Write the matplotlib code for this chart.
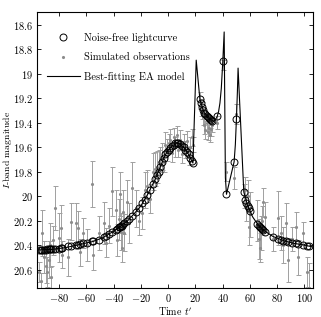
import matplotlib
matplotlib.use("Agg")
import matplotlib.pyplot as plt
from matplotlib.ticker import FuncFormatter, FixedLocator
from matplotlib.lines import Line2D

plt.rcParams['font.family'] = 'serif'
plt.rcParams['font.serif'] = ['cmr10', 'DejaVu Serif']
plt.rcParams['mathtext.fontset'] = 'cm'
plt.rcParams['axes.unicode_minus'] = True

# ---- data ----
obs_t = [-94.7, -93.6, -92.2, -90.8, -89.8, -88.6, -87.6, -86.6, -85.6, -84.8,
         -82.7, -80.2, -78.6, -77.5, -73.3, -71.5, -67.8, -66.2, -64.5, -62.2,
         -59.3, -55.8, -55.2, -50.7, -47.2, -45.9, -43.4, -41.2, -38.2, -37.3,
         -36.2, -35.5, -34.8, -34.0, -33.0, -32.0, -30.0, -28.8, -26.3, -23.9,
         -21.4, -19.0, -17.3, -15.5, -13.1, -11.2, -9.5, -8.2, -7.0, -5.7,
         -4.5, -3.3, -2.1, -0.8, 0.5, 1.5, 2.8, 4.0, 5.2, 6.4,
         7.6, 8.9, 10.1, 11.3, 12.6, 13.8, 15.0, 16.2, 17.3, 18.2,
         23.3, 24.0, 24.8, 25.7, 26.5, 27.3, 28.2, 29.0, 29.8, 30.6,
         31.5, 32.3, 36.0, 40.1, 42.8, 48.4, 50.1, 55.5,
         56.5, 57.3, 58.4, 59.4, 60.4, 65.4, 66.3, 67.2, 68.0, 68.9,
         69.8, 71.1, 77.2, 80.9, 82.5, 84.5, 86.5, 88.2, 90.7, 94.0,
         95.5, 99.2, 101.7, 103.4]

noise_free_mag = [20.44, 20.44, 20.44, 20.44, 20.44, 20.435, 20.435, 20.435, 20.435, 20.43,
                  20.43, 20.43, 20.425, 20.425, 20.41, 20.405, 20.40, 20.395, 20.39, 20.385,
                  20.38, 20.37, 20.37, 20.36, 20.335, 20.325, 20.31, 20.295, 20.28, 20.27,
                  20.255, 20.25, 20.245, 20.24, 20.23, 20.22, 20.205, 20.19, 20.16, 20.13,
                  20.10, 20.06, 20.03, 19.99, 19.95, 19.90, 19.86, 19.83, 19.80, 19.76,
                  19.72, 19.69, 19.66, 19.64, 19.62, 19.605, 19.59, 19.58, 19.57, 19.565,
                  19.57, 19.575, 19.59, 19.60, 19.62, 19.64, 19.66, 19.685, 19.71, 19.73,
                  19.21, 19.24, 19.27, 19.30, 19.32, 19.33, 19.345, 19.355, 19.365, 19.37,
                  19.38, 19.385, 19.35, 18.90, 19.985, 19.72, 19.37, 19.966,
                  20.03, 20.055, 20.08, 20.10, 20.12, 20.225, 20.24, 20.25, 20.26, 20.27,
                  20.28, 20.29, 20.33, 20.35, 20.355, 20.365, 20.37, 20.378, 20.38, 20.385,
                  20.39, 20.40, 20.405, 20.41]

obs_mag = [20.62, 20.69, 20.30, 20.50, 20.57, 20.62, 20.52, 20.40, 20.66, 20.36,
           20.10, 20.34, 20.26, 20.48, 20.50, 20.21, 20.22, 20.26, 20.46, 20.30,
           20.40, 19.90, 20.48, 20.30, 20.22, 20.38, 20.24, 19.96, 20.11, 20.36,
           20.19, 19.98, 20.29, 20.42, 20.13, 20.30, 20.05, 20.22, 19.93, 20.10,
           20.20, 20.14, 19.95, 19.92, 20.02, 19.80, 19.78, 19.76, 19.72, 19.70,
           19.68, 19.72, 19.58, 19.62, 19.57, 19.54, 19.65, 19.52, 19.60, 19.50,
           19.62, 19.54, 19.66, 19.56, 19.62, 19.55, 19.68, 19.60, 19.52, 19.58,
           19.22, 19.28, 19.30, 19.35, 19.42, 19.46, 19.40, 19.48, 19.44, 19.50,
           19.45, 19.42, 19.40, 18.93, 19.80, 19.85, 19.33, 20.00,
           19.95, 20.10, 20.00, 20.25, 20.15, 20.20, 20.35, 20.42, 20.30, 20.20,
           20.05, 20.17, 20.35, 20.18, 20.30, 20.40, 20.22, 20.52, 20.35, 20.25,
           20.50, 20.30, 20.62, 20.75]

obs_err = [0.08, 0.06, 0.19, 0.13, 0.14, 0.12, 0.15, 0.18, 0.09, 0.12,
           0.18, 0.20, 0.19, 0.11, 0.15, 0.15, 0.16, 0.14, 0.11, 0.12,
           0.13, 0.19, 0.12, 0.14, 0.17, 0.12, 0.14, 0.20, 0.16, 0.13,
           0.17, 0.18, 0.15, 0.12, 0.18, 0.15, 0.18, 0.16, 0.21, 0.15,
           0.12, 0.13, 0.15, 0.13, 0.12, 0.15, 0.14, 0.13, 0.10, 0.10,
           0.11, 0.08, 0.10, 0.09, 0.08, 0.09, 0.07, 0.08, 0.08, 0.07,
           0.06, 0.08, 0.07, 0.07, 0.07, 0.08, 0.07, 0.08, 0.07, 0.06,
           0.07, 0.07, 0.07, 0.07, 0.07, 0.07, 0.07, 0.06, 0.07, 0.06,
           0.06, 0.06, 0.05, 0.04, 0.08, 0.09, 0.08, 0.10,
           0.11, 0.10, 0.13, 0.15, 0.18, 0.17, 0.16, 0.12, 0.14, 0.12,
           0.12, 0.12, 0.10, 0.22, 0.14, 0.15, 0.16, 0.18, 0.10, 0.12,
           0.14, 0.09, 0.12, 0.20]

model_t = [-96, -85, -75, -65, -55, -48, -42, -36, -30, -25, -20, -15, -10, -6, -3,
           0, 3, 6.5, 9, 12, 15, 18.2, 20.6, 23.3, 26, 29, 32.3, 33.5, 35, 36, 37,
           38, 39, 40.1, 41.1, 42.0, 42.8, 48.4, 49.3, 50.1, 50.8, 51.3, 55.5, 58.4,
           62, 66, 70, 77, 85, 92, 100, 106]
model_mag = [20.44, 20.435, 20.42, 20.395, 20.37, 20.34, 20.30, 20.255, 20.205, 20.145,
             20.08, 19.985, 19.875, 19.77, 19.685, 19.625, 19.59, 19.565, 19.575, 19.61,
             19.66, 19.73, 18.89, 19.21, 19.31, 19.355, 19.385, 19.39, 19.37, 19.35,
             19.31, 19.24, 19.12, 18.90, 18.66, 19.85, 19.985, 19.72, 19.58, 19.37,
             19.15, 18.955, 19.966, 20.08, 20.17, 20.235, 20.28, 20.33, 20.365, 20.385,
             20.40, 20.415]

xticks = [-80, -60, -40, -20, 0, 20, 40, 60, 80, 100]
yticks = [18.6, 18.8, 19.0, 19.2, 19.4, 19.6, 19.8, 20.0, 20.2, 20.4, 20.6]

# ---- figure ----
fig = plt.figure(figsize=(3.21, 3.17), dpi=100)
ax = fig.add_axes([0.116, 0.0915, 0.858, 0.8695])

ax.errorbar(obs_t, obs_mag, yerr=obs_err, fmt='.', color='#8c8c8c',
            ecolor='#a0a0a0', elinewidth=0.7, capsize=1.8, capthick=0.7,
            markersize=2.5, zorder=1)
line_model, = ax.plot(model_t, model_mag, '-', color='black', lw=0.8, zorder=2)
circ, = ax.plot(obs_t, noise_free_mag, 'o', mfc='none', mec='black', mew=0.7,
                markersize=5, zorder=3)

ax.set_xlim(-96, 106)
ax.set_ylim(20.75, 18.5)

ax.xaxis.set_major_locator(FixedLocator(xticks))
ax.yaxis.set_major_locator(FixedLocator(yticks))
fmt = FuncFormatter(lambda v, p: r'$%g$' % round(v, 2))
ax.xaxis.set_major_formatter(fmt)
ax.yaxis.set_major_formatter(fmt)
ax.tick_params(direction='in', top=True, right=True, length=3, width=0.6,
               labelsize=7.5, pad=3)
for s in ax.spines.values():
    s.set_linewidth(0.8)

ax.set_xlabel(r"Time $t'$", fontsize=7.2, labelpad=0.5)
ax.set_ylabel(r"$I$-band magnitude", fontsize=7)
ax.yaxis.set_label_coords(-0.086, 0.5)

dot_proxy = Line2D([], [], linestyle='none', marker='.', color='#8c8c8c',
                   markersize=2.5)
ax.legend([circ, dot_proxy, line_model],
          ['Noise-free lightcurve', 'Simulated observations', 'Best-fitting EA model'],
          loc='upper left', bbox_to_anchor=(0.0, 0.96), frameon=False,
          fontsize=7.5, handlelength=3.2, labelspacing=0.95, handletextpad=0.4,
          numpoints=1)

fig.savefig('out.png', dpi=100)
